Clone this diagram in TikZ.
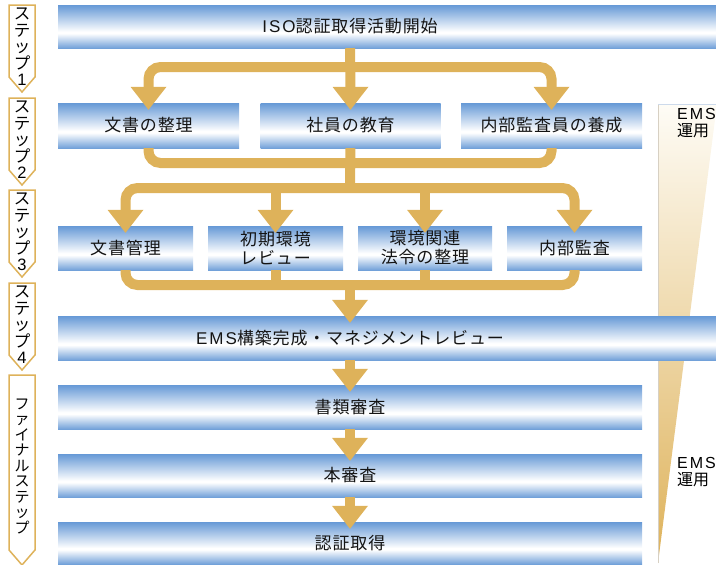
\documentclass[tikz,border=0pt]{standalone}
\usepackage{fontspec}
\setmainfont{Noto Sans CJK JP}[LetterSpace=5]
\newfontfamily\jpn{Noto Sans CJK JP}
\newfontfamily\lat{Liberation Sans}[LetterSpace=12]
\usetikzlibrary{arrows.meta}
\definecolor{bblue}{RGB}{102,153,214}
\colorlet{bbot}{bblue!92!white}
\definecolor{gold}{RGB}{222,178,90}
\definecolor{wtop}{RGB}{254,252,246}
\definecolor{wline}{RGB}{205,218,235}
\definecolor{wedge}{RGB}{215,208,195}
\pgfdeclareverticalshading{boxshade}{100bp}{color(0bp)=(bbot); color(25bp)=(bbot); color(42bp)=(white); color(44bp)=(white); color(75bp)=(bblue); color(100bp)=(bblue)}
\newcommand\ahead[1]{\fill[gold] ([yshift=-7pt]#1.north) -- ++(-18,-23) -- ++(36,0) -- cycle;}
\begin{document}
\begin{tikzpicture}[x=1pt,y=-1pt,
  box/.style={shade, shading=boxshade, draw=none, inner sep=0pt, align=center,
    font={\fontsize{17}{19}\selectfont}, text=black!92},
  conn/.style={draw=gold, line width=10pt, rounded corners=12pt},
  steplab/.style={draw=gold, line width=1.5pt, fill=white},
  labtext/.style={align=center, inner sep=0pt, font={\jpn\fontsize{16.5}{16.5}\selectfont}},
  emstext/.style={anchor=north west, align=left, inner sep=0pt, font={\jpn\fontsize{16}{17.5}\selectfont}}]
\useasboundingbox (0,0) rectangle (716,565);
\clip (0,0) rectangle (716,565);

% wedge
\shade[top color=wtop, bottom color=gold] (658,104) -- (717,104) -- (658,563) -- cycle;
\draw[wline, line width=1pt] (658,104.5) -- (716,104.5);
\draw[wedge, line width=0.8pt] (658.4,104.5) -- (658.4,563);
\node[emstext] (ems1) at (677,108) {{\lat EMS}\\運用};
\node[emstext] (ems2) at (677,457) {{\lat EMS}\\運用};

% step labels
\draw[steplab] (9,5) -- (35,5) -- (35,77) -- (22,92) -- (9,77) -- cycle;
\node[labtext] (l1) at (22,47) {ス\\テ\\ッ\\プ\\{\lat 1}};
\draw[steplab] (9,98) -- (35,98) -- (35,170) -- (22,185) -- (9,170) -- cycle;
\node[labtext] (l2) at (22,140) {ス\\テ\\ッ\\プ\\{\lat 2}};
\draw[steplab] (9,190) -- (35,190) -- (35,262) -- (22,277) -- (9,262) -- cycle;
\node[labtext] (l3) at (22,232) {ス\\テ\\ッ\\プ\\{\lat 3}};
\draw[steplab] (9,283) -- (35,283) -- (35,355) -- (22,370) -- (9,355) -- cycle;
\node[labtext] (l4) at (22,325) {ス\\テ\\ッ\\プ\\{\lat 4}};
\draw[steplab] (9,375) -- (35,375) -- (35,550) -- (22,565) -- (9,550) -- cycle;
\node[labtext, font={\jpn\fontsize{15}{15.5}\selectfont}] (l5) at (22,466) {フ\\ァ\\イ\\ナ\\ル\\ス\\テ\\ッ\\プ};

% boxes
\shade[shading=boxshade] (638,5) rectangle (716,48);
\node[box, minimum width=584pt, minimum height=43pt] (b1) at (350,26.5) {{\lat ISO}認証取得活動開始};
\node[box, minimum width=181pt, minimum height=45pt] (b2a) at (148.5,125.5) {文書の整理};
\node[box, minimum width=180pt, minimum height=45pt] (b2b) at (350.5,125.5) {社員の教育};
\node[box, minimum width=181pt, minimum height=45pt] (b2c) at (551.5,125.5) {内部監査員の養成};
\node[box, minimum width=135pt, minimum height=44pt] (b3a) at (125.5,248) {文書管理};
\node[box, minimum width=135pt, minimum height=44pt] (b3b) at (275.5,248) {初期環境\\レビュー};
\node[box, minimum width=134pt, minimum height=44pt] (b3c) at (425,248) {環境関連\\法令の整理};
\node[box, minimum width=135pt, minimum height=44pt] (b3d) at (574.5,248) {内部監査};
\shade[shading=boxshade] (638,316) rectangle (716,360);
\node[box, minimum width=584pt, minimum height=44pt] (b4) at (350,338) {{\lat EMS}構築完成・マネジメントレビュー};
\node[box, minimum width=584pt, minimum height=44pt] (f1) at (350,407) {書類審査};
\node[box, minimum width=584pt, minimum height=43pt] (f2) at (350,475.5) {本審査};
\node[box, minimum width=584pt, minimum height=42pt] (f3) at (350,543) {認証取得};

% junction points
\coordinate (s1) at (350,67);
\coordinate (m1) at (350,163);
\coordinate (s2) at (350,188);
\coordinate (m2) at (350,285);

% connectors
\draw[conn] (b1.south) -- ([yshift=15pt]b2b.north);
\draw[conn] ([yshift=15pt]b2a.north) |- (s1) -| ([yshift=15pt]b2c.north);
\draw[conn] (b2a.south) |- (m1) -| (b2c.south);
\draw[conn] (b2b.south) -- (s2);
\draw[conn] ([yshift=15pt]b3a.north) |- (s2) -| ([yshift=15pt]b3d.north);
\draw[conn] (s2 -| b3b) -- ([yshift=15pt]b3b.north);
\draw[conn] (s2 -| b3c) -- ([yshift=15pt]b3c.north);
\draw[conn] (b3a.south) |- (m2) -| (b3d.south);
\draw[conn] (b3b.south) -- (m2 -| b3b);
\draw[conn] (b3c.south) -- (m2 -| b3c);
\draw[conn] (m2) -- ([yshift=15pt]b4.north);
\draw[conn] (b4.south) -- ([yshift=15pt]f1.north);
\draw[conn] (f1.south) -- ([yshift=15pt]f2.north);
\draw[conn] (f2.south) -- ([yshift=15pt]f3.north);

% arrowheads
\ahead{b2a}\ahead{b2b}\ahead{b2c}
\ahead{b3a}\ahead{b3b}\ahead{b3c}\ahead{b3d}
\ahead{b4}\ahead{f1}\ahead{f2}\ahead{f3}
\end{tikzpicture}
\end{document}
